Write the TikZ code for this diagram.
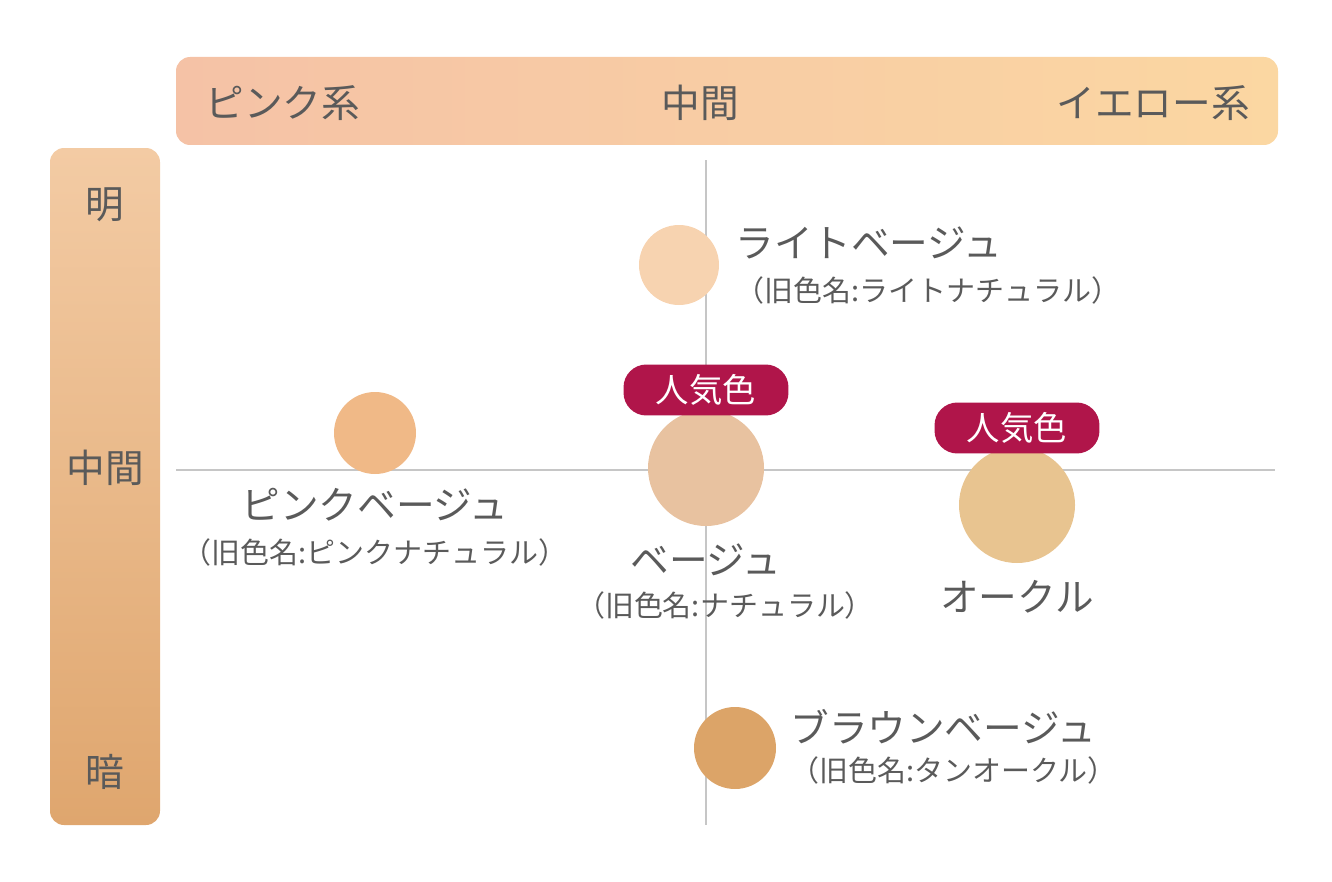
\documentclass[tikz,border=0pt]{standalone}
\usepackage{fontspec}
\usepackage{xcolor}
\newfontfamily\jpfont{Noto Sans CJK JP}
\definecolor{txtgray}{HTML}{5A5A5A}
\definecolor{popred}{HTML}{B0154A}
\definecolor{pinkend}{HTML}{F5C2A6}
\definecolor{yellowend}{HTML}{FBD7A2}
\definecolor{lighttop}{HTML}{F3CBA4}
\definecolor{darkbottom}{HTML}{DFA66E}
\definecolor{lbeige}{HTML}{F7D3B0}
\definecolor{pbeige}{HTML}{F0B987}
\definecolor{beige}{HTML}{E8C2A0}
\definecolor{ochre}{HTML}{E8C490}
\definecolor{bbeige}{HTML}{DCA468}
\tikzset{
  main/.style={text=txtgray, font=\jpfont\fontsize{22}{24}\selectfont, inner sep=0pt},
  sub/.style={text=txtgray, font=\jpfont\fontsize{16.5}{18}\selectfont, inner sep=0pt},
  badge/.style={fill=popred, text=white, rounded corners=13pt, minimum width=3.3cm, minimum height=1.02cm, font=\jpfont\fontsize{19}{20}\selectfont},
}
\begin{document}
\begin{tikzpicture}[x=0.02cm, y=-0.02cm]
  \useasboundingbox (0,0) rectangle (1332,882);
  % bars
  \shade[left color=pinkend, right color=yellowend, rounded corners=8pt] (176,57) rectangle (1278,145);
  \shade[top color=lighttop, bottom color=darkbottom, rounded corners=8pt] (50,148) rectangle (160,825);
  \node[main, anchor=west] (pinkax) at (205,103) {ピンク系};
  \node[main] (midax) at (700,103) {中間};
  \node[main, anchor=east] (yelax) at (1250,103) {イエロー系};
  \node[main] (light) at (105,205) {明};
  \node[main] (midv) at (105,468) {中間};
  \node[main] (dark) at (105,772) {暗};
  % axes
  \draw[gray!45, line width=1pt] (706,160) -- (706,825);
  \draw[gray!45, line width=1pt] (176,470) -- (1275,470);
  % shades
  \fill[lbeige] (679,265) circle (40);
  \fill[pbeige] (375,433) circle (41);
  \fill[beige] (706,468) circle (58);
  \fill[ochre] (1017,505) circle (58);
  \fill[bbeige] (735,748) circle (41);
  % badges
  \node[badge] (pop1) at (706,390) {人気色};
  \node[badge] (pop2) at (1017,428) {人気色};
  % labels
  \node[main, anchor=west] (lbname) at (735,243) {ライトベージュ};
  \node[sub, anchor=west] (lbold) at (735,290) {（旧色名:ライトナチュラル）};
  \node[main] (pbname) at (375,505) {ピンクベージュ};
  \node[sub] (pbold) at (375,552) {（旧色名:ピンクナチュラル）};
  \node[main] (bname) at (706,560) {ベージュ};
  \node[sub] (bold) at (725,605) {（旧色名:ナチュラル）};
  \node[main] (oname) at (1017,597) {オークル};
  \node[main, anchor=west] (brname) at (790,727) {ブラウンベージュ};
  \node[sub, anchor=west] (brold) at (790,770) {（旧色名:タンオークル）};
\end{tikzpicture}
\end{document}
